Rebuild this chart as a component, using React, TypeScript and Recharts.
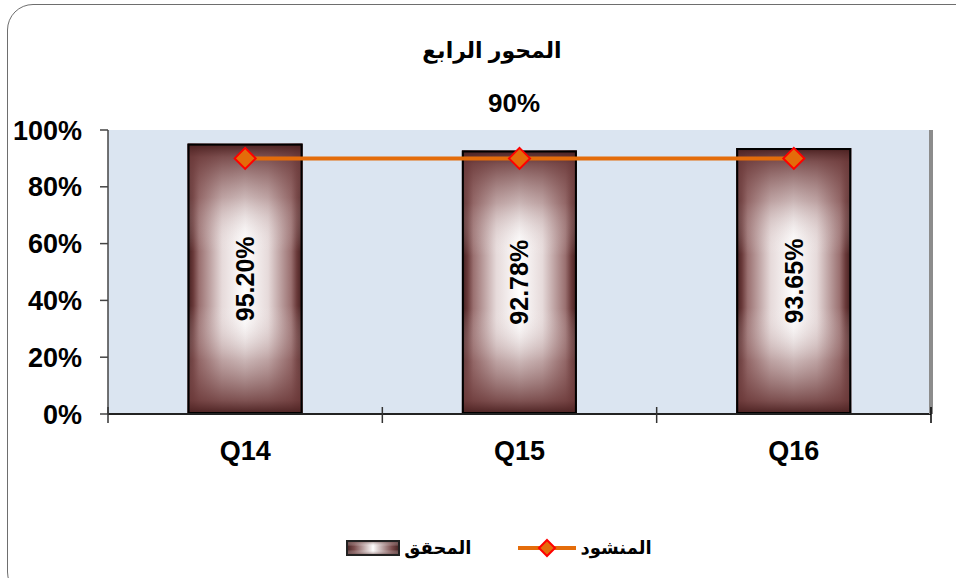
import { ComposedChart, Bar, Line, XAxis, YAxis, CartesianGrid, Legend, LabelList } from 'recharts'

const categories = ['Q14', 'Q15', 'Q16']
const achieved = [95.2, 92.78, 93.65]
const target = [90, 90, 90]
const yTicks = [0, 20, 40, 60, 80, 100]

const chartTitle = 'المحور الرابع'
const targetLabel = '90%'
const achievedName = 'المحقق'
const targetName = 'المنشود'

const data = categories.map((name, i) => ({ name, achieved: achieved[i], target: target[i] }))

const FONT = '"Liberation Sans", Arial, "DejaVu Sans", sans-serif'
const PLOT_LEFT = 108
const PLOT_RIGHT = 931
const BAND = (PLOT_RIGHT - PLOT_LEFT) / categories.length
const X_TICK_MARGIN = 0

function BevelBar(props: any) {
  const { x, y, width, height } = props
  if (!height || height <= 0) return null
  return (
    <g>
      <rect x={x} y={y} width={width} height={height} fill="url(#barH)" />
      <rect x={x} y={y} width={width} height={height} fill="url(#barV)" />
      <rect x={x + 1} y={y + 1} width={width - 2} height={height - 2} fill="none" stroke="#000" strokeWidth={2} />
    </g>
  )
}

function Diamond(props: any) {
  const { cx, cy } = props
  if (cx == null || cy == null) return null
  const r = 10.5
  return (
    <path
      d={`M${cx},${cy - r} L${cx + r},${cy} L${cx},${cy + r} L${cx - r},${cy} Z`}
      fill="#e46c0a"
      stroke="#ff0000"
      strokeWidth={2}
    />
  )
}

function BarValueLabel(props: any) {
  const { x, y, width, height, value } = props
  const cx = x + width / 2
  const cy = y + height / 2
  return (
    <text
      x={cx}
      y={cy}
      transform={`rotate(-90 ${cx} ${cy})`}
      textAnchor="middle"
      dominantBaseline="central"
      fontFamily={FONT}
      fontWeight="bold"
      fontSize={25}
      fill="#000"
    >
      {value.toFixed(2)}%
    </text>
  )
}

function CategoryTick(props: any) {
  const { x, y, payload, index } = props
  const axisY = y - X_TICK_MARGIN
  const left = x - BAND / 2
  const right = x + BAND / 2
  return (
    <g>
      <line x1={left} x2={left} y1={axisY - 7} y2={axisY + 9} stroke="#333" strokeWidth={1.5} />
      {index === categories.length - 1 && (
        <line x1={right} x2={right} y1={axisY - 7} y2={axisY + 9} stroke="#000" strokeWidth={1.5} />
      )}
      <text x={x} y={axisY + 46} textAnchor="middle" fontFamily={FONT} fontWeight="bold" fontSize={27} fill="#000">
        {payload.value}
      </text>
    </g>
  )
}

function CustomLegend({ payload }: any) {
  const items = (payload || []).filter((e: any) => e.value === achievedName || e.value === targetName)
  return (
    <div style={{ display: 'flex', justifyContent: 'center', alignItems: 'center', height: 30, paddingLeft: 42 }}>
      {items.map((entry: any, i: number) => (
        <div key={i} style={{ display: 'flex', alignItems: 'center', marginLeft: i > 0 ? 47 : 0 }}>
          {entry.type === 'line' ? (
            <svg width={58} height={22}>
              <line x1={0} x2={58} y1={11} y2={11} stroke="#e46c0a" strokeWidth={4} />
              <path d="M29,3 L37,11 L29,19 L21,11 Z" fill="#e46c0a" stroke="#ff0000" strokeWidth={2} />
            </svg>
          ) : (
            <svg width={54} height={16}>
              <rect x={0} y={0} width={54} height={16} fill="url(#barHs)" />
              <rect x={0} y={0} width={54} height={16} fill="url(#barVs)" />
              <rect x={1} y={1} width={52} height={14} fill="none" stroke="#222" strokeWidth={2} />
            </svg>
          )}
          <span style={{ fontFamily: FONT, fontWeight: 'bold', fontSize: 18, color: '#000', marginLeft: 4 }}>
            {entry.value}
          </span>
        </div>
      ))}
    </div>
  )
}

export default function App() {
  return (
    <div style={{ position: 'absolute', left: 0, top: 0, width: 956, height: 578, overflow: 'hidden', background: '#fff' }}>
      <svg width={0} height={0} style={{ position: 'absolute' }}>
        <defs>
          <linearGradient id="barH" x1="0" y1="0" x2="1" y2="0">
            <stop offset="0" stopColor="#3f1c1c" />
            <stop offset="0.05" stopColor="#6a3a3a" />
            <stop offset="0.1" stopColor="#9a7070" />
            <stop offset="0.3" stopColor="#e6dada" />
            <stop offset="0.5" stopColor="#ffffff" />
            <stop offset="0.7" stopColor="#e6dada" />
            <stop offset="0.9" stopColor="#9a7070" />
            <stop offset="0.95" stopColor="#6a3a3a" />
            <stop offset="1" stopColor="#3f1c1c" />
          </linearGradient>
          <linearGradient id="barHs" x1="0" y1="0" x2="1" y2="0">
            <stop offset="0" stopColor="#3f1c1c" />
            <stop offset="0.15" stopColor="#7a4c4c" />
            <stop offset="0.5" stopColor="#ffffff" />
            <stop offset="0.85" stopColor="#7a4c4c" />
            <stop offset="1" stopColor="#3f1c1c" />
          </linearGradient>
          <linearGradient id="barV" x1="0" y1="0" x2="0" y2="1">
            <stop offset="0" stopColor="#4a2020" stopOpacity={1} />
            <stop offset="0.05" stopColor="#6e3c3c" stopOpacity={0.88} />
            <stop offset="0.2" stopColor="#8a5c5c" stopOpacity={0.45} />
            <stop offset="0.4" stopColor="#ffffff" stopOpacity={0} />
            <stop offset="0.6" stopColor="#ffffff" stopOpacity={0} />
            <stop offset="0.8" stopColor="#8a5c5c" stopOpacity={0.45} />
            <stop offset="0.95" stopColor="#6e3c3c" stopOpacity={0.88} />
            <stop offset="1" stopColor="#4a2020" stopOpacity={1} />
          </linearGradient>
          <linearGradient id="barVs" x1="0" y1="0" x2="0" y2="1">
            <stop offset="0" stopColor="#4a2020" stopOpacity={0.9} />
            <stop offset="0.4" stopColor="#ffffff" stopOpacity={0} />
            <stop offset="0.6" stopColor="#ffffff" stopOpacity={0} />
            <stop offset="1" stopColor="#4a2020" stopOpacity={0.9} />
          </linearGradient>
        </defs>
      </svg>
      <div
        style={{
          position: 'absolute',
          left: 7,
          top: 4,
          width: 975,
          height: 592,
          border: '1.5px solid #6e6e6e',
          borderRadius: 26,
        }}
      />
      <div style={{ position: 'absolute', left: 342, top: 36, width: 300, textAlign: 'center', fontFamily: FONT, fontWeight: 'bold', fontSize: 22, lineHeight: '30px' }}>
        {chartTitle}
      </div>
      <div style={{ position: 'absolute', left: 414, top: 88, width: 200, textAlign: 'center', fontFamily: FONT, fontWeight: 'bold', fontSize: 26, lineHeight: '30px' }}>
        {targetLabel}
      </div>
      <div style={{ position: 'absolute', left: 0, top: 0 }}>
        <ComposedChart width={956} height={578} data={data} margin={{ top: 130, right: 956 - PLOT_RIGHT - 2, left: 0, bottom: 84 }} barCategoryGap="29%">
          <CartesianGrid horizontal={false} vertical={false} fill="#dbe5f1" />
          <XAxis
            dataKey="name"
            xAxisId={0}
            height={50}
            tickLine={false}
            tickSize={0}
            tickMargin={X_TICK_MARGIN}
            axisLine={{ stroke: '#222', strokeWidth: 2 }}
            tick={<CategoryTick />}
            interval={0}
          />
          <XAxis dataKey="name" xAxisId="top" orientation="top" height={0} tick={false} tickLine={false} axisLine={{ stroke: '#8c8c8c', strokeWidth: 4 }} />
          <YAxis
            domain={[0, 100]}
            ticks={yTicks}
            yAxisId={0}
            width={PLOT_LEFT}
            tickSize={8}
            tickMargin={18}
            tickFormatter={(v: number) => `${v}%`}
            axisLine={{ stroke: '#444', strokeWidth: 1.5 }}
            tickLine={{ stroke: '#444', strokeWidth: 1.5 }}
            tick={{ fontFamily: FONT, fontWeight: 'bold', fontSize: 27, fill: '#000' }}
            interval={0}
          />
          <YAxis yAxisId="right" orientation="right" width={2} domain={[0, 100]} tick={false} tickLine={false} axisLine={{ stroke: '#8c8c8c', strokeWidth: 4 }} />
          <Legend
            content={<CustomLegend />}
            verticalAlign="bottom"
            wrapperStyle={{ position: 'absolute', top: 533, left: 0, width: 956 }}
          />
          <Bar dataKey="achieved" name={achievedName} shape={<BevelBar />} isAnimationActive={false} legendType="rect">
            <LabelList dataKey="achieved" content={<BarValueLabel />} />
          </Bar>
          <Line
            dataKey="target"
            name={targetName}
            stroke="#e46c0a"
            strokeWidth={4}
            dot={<Diamond />}
            activeDot={false}
            isAnimationActive={false}
            legendType="line"
          />
          <Line yAxisId="right" dataKey="target" name="axis-anchor" stroke="none" dot={false} activeDot={false} legendType="none" isAnimationActive={false} />
        </ComposedChart>
      </div>
    </div>
  )
}
